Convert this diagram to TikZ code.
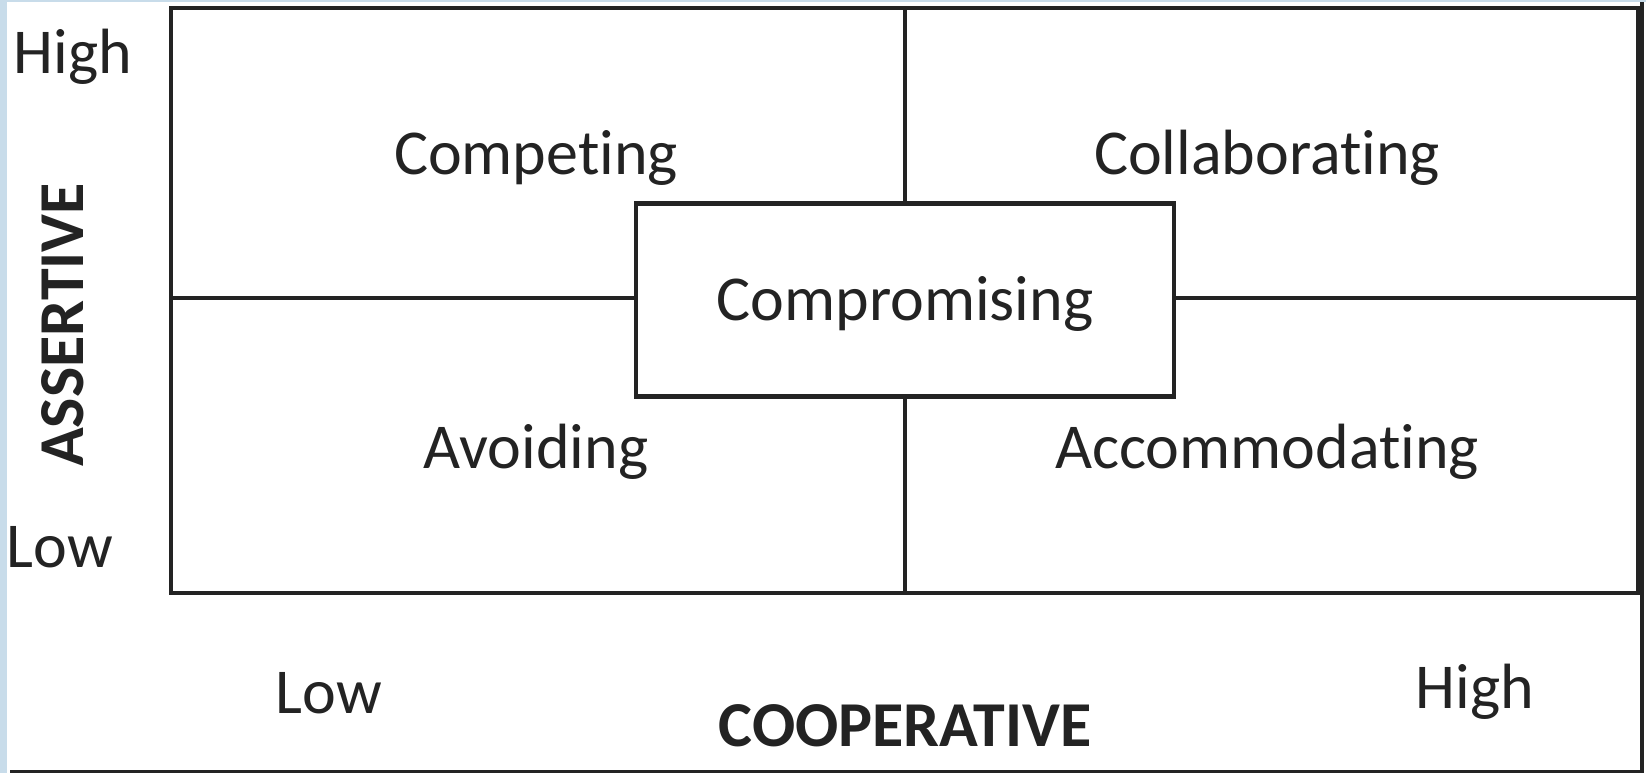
\documentclass[tikz,border=0pt]{standalone}
\usepackage{fontspec}
\setmainfont[Ligatures=NoCommon]{Carlito}
\definecolor{edgeblue}{RGB}{200,220,234}
\definecolor{inkgray}{RGB}{35,35,35}

\begin{document}
\begin{tikzpicture}[font=\fontsize{18.2}{22}\selectfont, text=inkgray]
	\useasboundingbox (0,0) rectangle (16.46,-7.73);
	\fill[white] (0,0) rectangle (16.46,-7.73);
	\fill[edgeblue] (0,0) rectangle (0.07,-7.73);
	\fill[edgeblue] (0,0) rectangle (16.46,-0.02);
	\draw[inkgray, line width=0.9pt] (0.10,-7.715) -- (16.42,-7.715) -- (16.42,-0.02);
	\draw[inkgray, line width=1.4pt] (1.71,-0.08) rectangle (16.38,-5.93);
	\coordinate (gtop) at (9.05,-0.08);
	\coordinate (gbot) at (9.05,-5.93);
	\coordinate (glft) at (1.71,-2.98);
	\coordinate (grgt) at (16.38,-2.98);
	\node[draw=inkgray, line width=1.3pt, minimum width=5.38cm, minimum height=1.93cm] (cmp) at (9.05,-3.0) {};
	\node (cmptxt) at (9.05,-3.04) {Compromising};
	\draw[inkgray, line width=1.2pt] (cmp.north) -- (gtop);
	\draw[inkgray, line width=1.2pt] (cmp.south) -- (gbot);
	\draw[inkgray, line width=1.2pt] (cmp.west |- glft) -- (glft);
	\draw[inkgray, line width=1.2pt] (cmp.east |- grgt) -- (grgt);
	\node (cpt) at (5.36,-1.58) {Competing};
	\node (clb) at (12.67,-1.58) {Collaborating};
	\node (avd) at (5.36,-4.52) {Avoiding};
	\node (acc) at (12.67,-4.52) {Accommodating};
	\node (yhi) at (0.73,-0.57) {High};
	\node (ylo) at (0.60,-5.47) {Low};
	\node[rotate=90, font=\fontsize{18.2}{22}\selectfont\bfseries] (yax) at (0.63,-3.25) {ASSERTIVE};
	\node (xlo) at (3.29,-6.93) {Low};
	\node (xhi) at (14.75,-6.92) {High};
	\node[font=\fontsize{18.2}{22}\selectfont\bfseries] (xax) at (9.05,-7.26) {COOPERATIVE};
\end{tikzpicture}
\end{document}
